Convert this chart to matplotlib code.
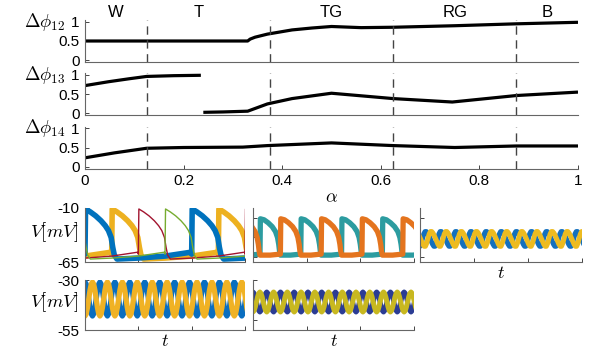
import matplotlib.pyplot as plt
import numpy as np

plt.rcParams['font.family'] = ['Liberation Sans', 'DejaVu Sans']
plt.rcParams['mathtext.fontset'] = 'cm'
plt.rcParams['font.size'] = 11

# ---- top: phase differences against alpha ----
alpha12 = [0, 0.1, 0.2, 0.3, 0.33, 0.335, 0.345, 0.37, 0.42, 0.46, 0.5, 0.56, 0.625, 0.75, 0.875, 1.0]
dphi12 = [0.5, 0.5, 0.5, 0.5, 0.5, 0.55, 0.6, 0.68, 0.79, 0.84, 0.88, 0.85, 0.86, 0.9, 0.95, 0.99]

alpha13a = [0, 0.047, 0.09, 0.125, 0.18, 0.235]
dphi13a = [0.72, 0.82, 0.9, 0.96, 0.98, 0.99]
alpha13b = [0.24, 0.28, 0.33, 0.37, 0.42, 0.5, 0.625, 0.745, 0.875, 1.0]
dphi13b = [0.02, 0.03, 0.05, 0.24, 0.38, 0.52, 0.38, 0.29, 0.46, 0.55]

alpha14 = [0, 0.06, 0.125, 0.2, 0.32, 0.37, 0.5, 0.625, 0.75, 0.875, 1.0]
dphi14 = [0.23, 0.36, 0.48, 0.5, 0.51, 0.55, 0.62, 0.55, 0.5, 0.54, 0.54]

regime_names = ['W', 'T', 'TG', 'RG', 'B']
regime_pos = [0.0625, 0.23, 0.5, 0.75, 0.9375]
regime_edges = [0.125, 0.375, 0.625, 0.875]

# ---- bottom: one cycle of each voltage trace (phase 0..1, mV) ----
w_phase = [0, 0.005, 0.05, 0.10, 0.15, 0.19, 0.22, 0.245, 0.26, 0.275, 0.30, 0.5, 0.75, 0.995]
w_volt = [-57, -11, -14, -18, -23, -28, -33, -40, -50, -58, -62, -61, -59, -55]
w_period = 2.0
w_shifts = [0.5, 0.0, 1.0, 1.5]
w_colors = ['#EDB120', '#0072BD', '#A2142F', '#77AC30']
w_widths = [4.0, 4.0, 1.0, 1.0]

tg_phase = [0, 0.01, 0.1, 0.2, 0.3, 0.38, 0.43, 0.46, 0.48, 0.5, 0.75, 0.99]
tg_volt = [-57, -21, -22, -25, -29, -34, -40, -47, -54, -58, -58, -57]
tg_period = 0.76
tg_shifts = [0.13, 0.51]
tg_colors = ['#2C9CA0', '#E4741E']

sine_phase = [0, 1/12, 2/12, 3/12, 4/12, 5/12, 6/12, 7/12, 8/12, 9/12, 10/12, 11/12]
rg_volt = [-49, -46, -41, -36.5, -34, -34, -35.5, -38, -41, -44, -47, -49]
rg_period = 0.28
rg_shifts = [0.0, 0.1]
rg_colors = ['#1470BE', '#EDBB20']

b_volt = [-31, -32.1, -35.2, -39.5, -43.8, -46.9, -48, -46.9, -43.8, -39.5, -35.2, -32.1]
b_period = 0.28
b_shifts = [0.0, 0.14]
b_colors = ['#0A6EC0', '#F0B224']

s_volt = [-36, -36.7, -38.5, -41, -43.5, -45.3, -46, -45.3, -43.5, -41, -38.5, -36.7]
s_period = 0.256
s_shifts = [0.0, 0.128]
s_colors = ['#2B3C94', '#C8B820']


def tile(phase, volt, period, shift, t_end=3.0):
    ts, vs = [], []
    k = int(np.floor(-shift / period)) - 1
    while shift + k * period < t_end + period:
        ts.extend(shift + (k + np.array(phase)) * period)
        vs.extend(volt)
        k += 1
    return ts, vs


W, H = 589, 352
fig = plt.figure(figsize=(W / 100, H / 100), dpi=100)


def px_axes(x0, x1, y0, y1):
    return fig.add_axes([x0 / W, 1 - y1 / H, (x1 - x0) / W, (y1 - y0) / H])


def style(ax):
    for s in ['top', 'right']:
        ax.spines[s].set_visible(False)
    for s in ['left', 'bottom']:
        ax.spines[s].set_color('#666666')
        ax.spines[s].set_linewidth(0.8)
    ax.tick_params(direction='in', length=3, width=0.7, color='#444444', pad=4)


# top panels
top_y = [(20, 62), (73, 115), (126.5, 168.5)]
top_data = [[(alpha12, dphi12)], [(alpha13a, dphi13a), (alpha13b, dphi13b)], [(alpha14, dphi14)]]
top_labels = [r'$\Delta\phi_{12}$', r'$\Delta\phi_{13}$', r'$\Delta\phi_{14}$']
for i, (y0, y1) in enumerate(top_y):
    ax = px_axes(85, 578, y0, y1)
    style(ax)
    for xs, ys in top_data[i]:
        ax.plot(xs, ys, color='black', lw=2.3, solid_capstyle='butt')
    for e in regime_edges:
        ax.axvline(e, color='#444444', lw=1.0, ls=(0, (6, 4)))
    ax.set_xlim(0, 1)
    ax.set_ylim(-0.05, 1.05)
    ax.set_yticks([0, 0.5, 1])
    ax.set_yticklabels(['0', '0.5', '1'])
    fig.text(65 / W, 1 - (y0 + 2) / H, top_labels[i], ha='right', va='center', fontsize=13.5)
    if i < 2:
        ax.tick_params(axis='x', bottom=False, labelbottom=False)
    else:
        ax.set_xticks([0, 0.2, 0.4, 0.6, 0.8, 1])
        ax.set_xticklabels(['0', '0.2', '0.4', '0.6', '0.8', '1'])
        ax.set_xlabel(r'$\alpha$', fontsize=13, labelpad=1)
    if i == 0:
        for name, xp in zip(regime_names, regime_pos):
            ax.text(xp, 1.19, name, transform=ax.get_xaxis_transform(),
                    ha='center', va='center', fontsize=12)

# bottom panels
panels = [
    ((85, 245, 208, 262), (-65, -10), w_phase, w_volt, w_period, w_shifts, w_colors, w_widths),
    ((253, 414, 208, 262), (-65, -10), tg_phase, tg_volt, tg_period, tg_shifts, tg_colors, [3.8, 3.8]),
    ((420, 582, 208, 262), (-65, -10), sine_phase, rg_volt, rg_period, rg_shifts, rg_colors, [3.6, 3.6]),
    ((85, 245, 280, 330), (-55, -30), sine_phase, b_volt, b_period, b_shifts, b_colors, [3.8, 3.8]),
    ((253, 414, 280, 330), (-55, -30), sine_phase, s_volt, s_period, s_shifts, s_colors, [3.6, 3.6]),
]
for j, (box, ylim, ph, vv, per, shifts, cols, lws) in enumerate(panels):
    ax = px_axes(*box)
    style(ax)
    for sh, c, lw in zip(shifts, cols, lws):
        ts, vs = tile(ph, vv, per, sh)
        ax.plot(ts, vs, color=c, lw=lw)
    ax.set_xlim(0, 3)
    ax.set_ylim(*ylim)
    ax.set_xticks([0, 1, 2, 3])
    ax.tick_params(axis='x', labelbottom=False)
    if j in (0, 3):
        ax.set_yticks(list(ylim))
        ax.set_yticklabels(['%d' % ylim[0], '%d' % ylim[1]])
        fig.text(79 / W, 1 - ((box[2] + box[3]) / 2 - 3) / H, r'$V[mV]$',
                 ha='right', va='center', fontsize=13.5)
    else:
        ax.set_yticks([-60, -40, -20] if ylim[0] == -65 else [-50, -40, -30])
        ax.tick_params(axis='y', labelleft=False)
    if j in (2, 3, 4):
        ax.set_xlabel(r'$t$', fontsize=13, labelpad=2)

fig.savefig('out.png', dpi=100)
